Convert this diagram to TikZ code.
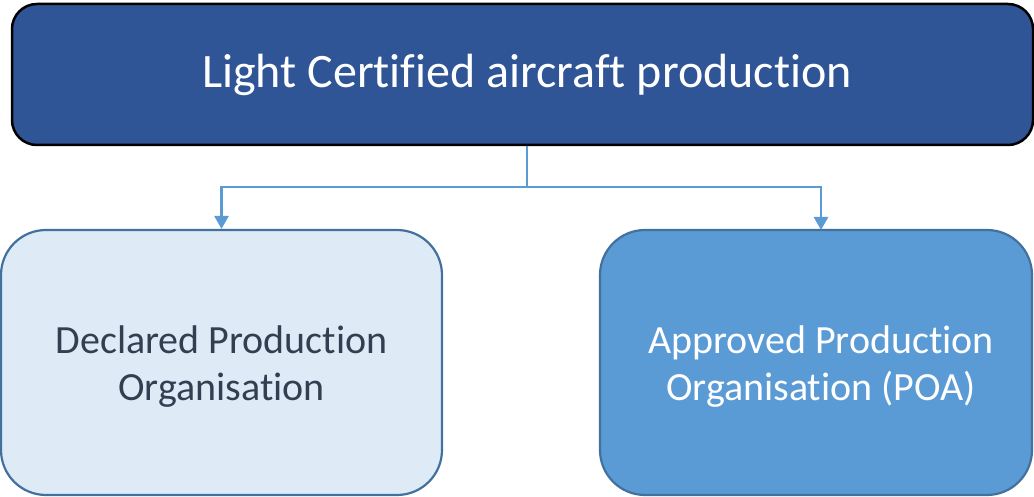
\documentclass[tikz,border=0pt]{standalone}
\usepackage{fontspec}
\setmainfont{Carlito}[Ligatures=NoCommon]
\usetikzlibrary{arrows.meta,calc}
\definecolor{topfill}{HTML}{2F5597}
\definecolor{lightfill}{HTML}{DEEAF6}
\definecolor{midfill}{HTML}{5B9BD5}
\definecolor{boxline}{HTML}{41719C}
\definecolor{conncol}{HTML}{5B9BD5}
\definecolor{darktext}{HTML}{333F50}
\tikzset{
  topbox/.style={draw=black, line width=2.5pt, fill=topfill, rounded corners=25pt,
    minimum width=1021pt, minimum height=141pt, text=white, inner sep=0pt,
    font=\fontsize{48}{56}\selectfont},
  subbox/.style={draw=boxline, line width=2.2pt, rounded corners=45pt,
    minimum height=265pt, inner sep=0pt},
  subtext/.style={align=center, font=\fontsize{40}{47}\selectfont, yshift=-4pt},
  conn/.style={draw=conncol, line width=2.7pt, -{Triangle[width=14pt,length=13pt]}}
}
\begin{document}
\begin{tikzpicture}[x=1pt,y=-1pt]
\useasboundingbox (0,0) rectangle (1034,497);
\node[topbox] (top) at (522.5,74.5) {\hspace*{9pt}\raisebox{-3pt}{Light Certified aircraft production}};
\node[subbox, fill=lightfill, minimum width=441pt,
  label={[subtext, text=darktext]center:Declared Production\\Organisation}] (left) at (221.5,362.5) {};
\node[subbox, fill=midfill, minimum width=432pt,
  label={[subtext, text=white, xshift=5pt]center:Approved Production\\Organisation (POA)}] (right) at (816,362.5) {};
\coordinate (j) at (527,187);
\coordinate (rt) at (821,230);
\draw[conn, arrows=-] (top.south -| j) -- (j);
\draw[conn] (j) -| (left.north);
\draw[conn] (j) -| (rt);
\end{tikzpicture}
\end{document}
